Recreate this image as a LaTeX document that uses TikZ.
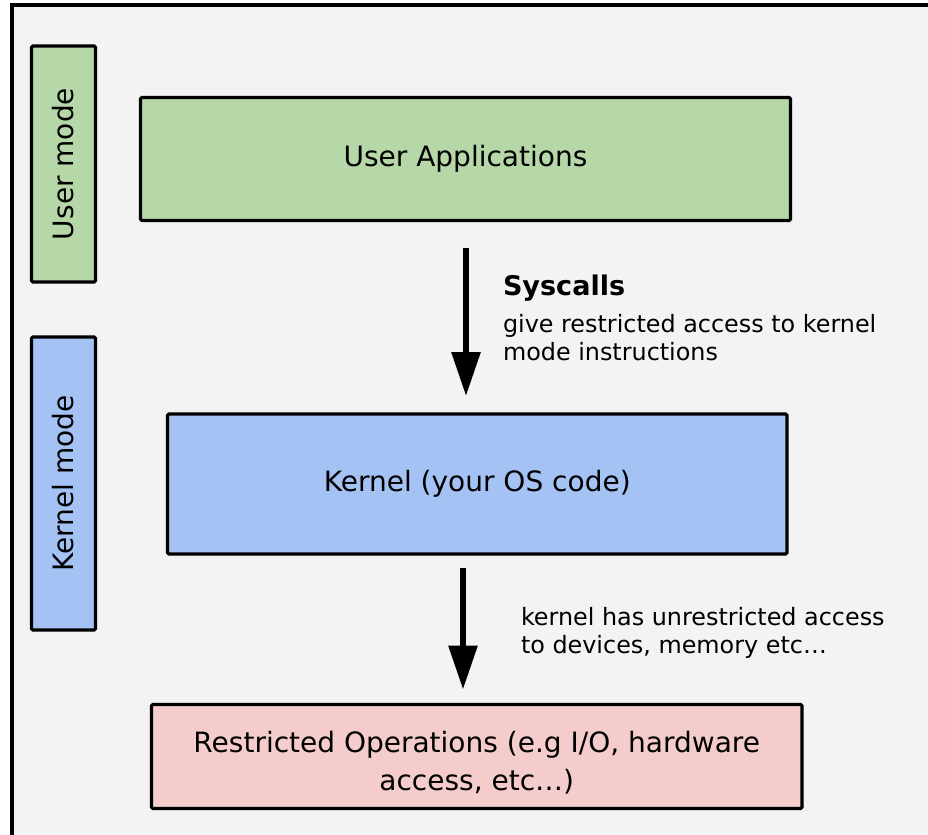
\documentclass[tikz,border=0pt]{standalone}
\usepackage{fontspec}
\setmainfont{DejaVu Sans}
\usetikzlibrary{arrows.meta,positioning}

\definecolor{bggray}{HTML}{F3F3F3}
\definecolor{usergreen}{HTML}{B6D7A8}
\definecolor{kernblue}{HTML}{A4C2F4}
\definecolor{restpink}{HTML}{F4CCCC}

\begin{document}
\begin{tikzpicture}[x=0.75pt,y=-0.75pt,
  every node/.style={inner sep=0pt,outer sep=0pt,font=\fontsize{21}{28.5}\selectfont},
  modebox/.style={draw,line width=2.3pt,rounded corners=1pt,minimum width=48pt,align=center},
  layer/.style={draw,line width=2.3pt,rounded corners=1pt,align=center},
  note/.style={align=left,anchor=base west,font=\fontsize{17.9}{21}\selectfont},
  arr/.style={-{Triangle[length=33pt,width=21pt]},line width=4.5pt}]
\useasboundingbox (0,0) rectangle (928,835);
\clip (0,0) rectangle (928,835);
\draw[line width=3pt,fill=bggray] (12,5) rectangle (960,870);
% mode labels
\node[modebox,fill=usergreen,minimum height=177pt] (umode) at (63.5,164) {\rotatebox{90}{User mode}};
\node[modebox,fill=kernblue,minimum height=219.75pt] (kmode) at (63.5,483.5) {\rotatebox{90}{Kernel mode}};
% layers
\node[layer,fill=usergreen,minimum width=487.5pt,minimum height=92.25pt] (uapp) at (465.5,159) {User Applications};
\node[layer,fill=kernblue,minimum width=464.6pt,minimum height=105pt] (kern) at (477.25,484) {Kernel (your OS code)};
\node[layer,fill=restpink,minimum width=487.9pt,minimum height=78pt,text depth=2pt] (rops) at (476.75,756.5) {\rule{0pt}{25pt}Restricted Operations (e.g I/O, hardware\\access, etc\ldots)};
% arrows
\coordinate (ax1) at (466,0);
\coordinate (ax2) at (463,0);
\draw[arr,shorten <=20.6pt,shorten >=13.5pt] (uapp.south -| ax1) -- (kern.north -| ax1);
\draw[arr,shorten <=10.5pt,shorten >=11.25pt] (kern.south -| ax2) -- (rops.north -| ax2);
% notes
\node[note,font=\fontsize{20.3}{24}\bfseries] (sysT) at (503,295) {Syscalls};
\node[note] (sysD) at (503,360) {give restricted access to kernel\\mode instructions};
\node[note] (kdesc) at (521,653) {kernel has unrestricted access\\to devices, memory etc\ldots};
\end{tikzpicture}
\end{document}
